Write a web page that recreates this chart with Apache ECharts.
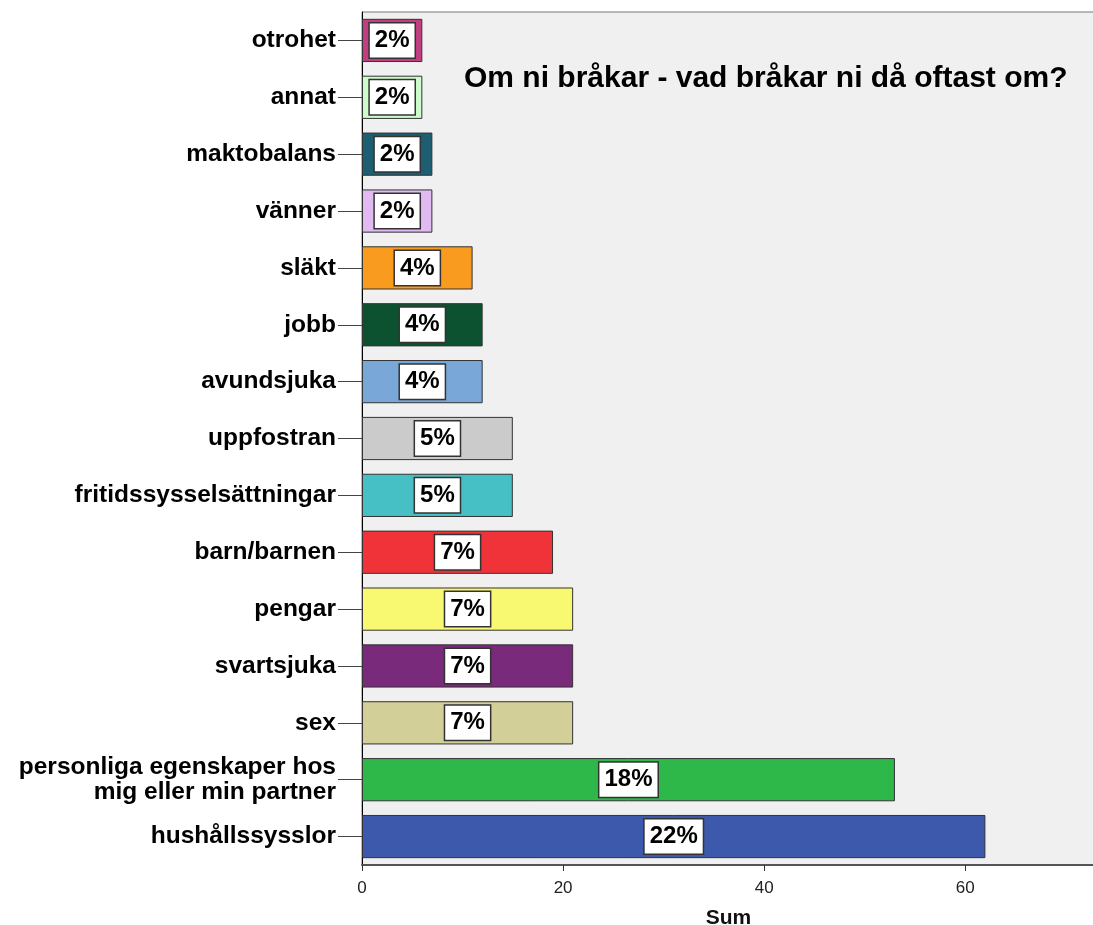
<!DOCTYPE html>
<html>
<head>
<meta charset="utf-8">
<script src="https://cdn.jsdelivr.net/npm/echarts@6/dist/echarts.min.js"></script>
<style>
  html, body { margin: 0; padding: 0; background: #fff; }
  #chart { width: 1093px; height: 925px; }
</style>
</head>
<body>
<div id="chart"></div>
<script>
// kategorier uppifrån och ned
const categories = [
  'otrohet', 'annat', 'maktobalans', 'vänner', 'släkt', 'jobb', 'avundsjuka',
  'uppfostran', 'fritidssysselsättningar', 'barn/barnen', 'pengar', 'svartsjuka',
  'sex', 'personliga egenskaper hos\nmig eller min partner', 'hushållssysslor'
]
const sums = [6, 6, 7, 7, 11, 12, 12, 15, 15, 19, 21, 21, 21, 53, 62]
const barColors = [
  '#c13e80', '#ccfccc', '#1d5e72', '#e0baf0', '#f99b1e', '#0d5230', '#79a8d8',
  '#cbcbcb', '#47c0c5', '#f03339', '#f9f871', '#7a2a7b', '#d3cf99', '#2fb84a', '#3d59ab'
]
const xTicks = [0, 20, 40, 60]

const total = sums.reduce((a, b) => a + b, 0)
const font = "'Liberation Sans', Arial, sans-serif"

let myChart = echarts.init(document.getElementById('chart'))
myChart.setOption({
  animation: false,
  title: {
    text: 'Om ni bråkar - vad bråkar ni då oftast om?',
    left: 459,
    top: 59,
    textStyle: { fontFamily: font, fontSize: 30, fontWeight: 'bold', color: '#000' },
  },
  grid: {
    left: 362,
    right: -2,
    top: 12,
    bottom: 60,
    outerBoundsMode: 'none',
    show: true,
    backgroundColor: '#f0f0f0',
    borderColor: '#777',
    borderWidth: 1,
  },
  xAxis: {
    type: 'value',
    min: 0,
    max: 72.9,
    interval: 20,
    name: 'Sum',
    nameLocation: 'middle',
    nameGap: 43,
    nameTextStyle: { fontFamily: font, fontSize: 21, fontWeight: 'bold', color: '#111' },
    axisLine: { show: true, lineStyle: { color: '#555', width: 2 } },
    axisTick: { show: true, length: 6, lineStyle: { color: '#333' }, customValues: xTicks },
    axisLabel: {
      fontFamily: font, fontSize: 17, color: '#222', margin: 15,
      customValues: xTicks,
    },
    splitLine: { show: false },
  },
  yAxis: {
    type: 'category',
    inverse: true,
    data: categories,
    axisLine: { show: true, lineStyle: { color: '#000', width: 1 } },
    axisTick: { show: true, length: 24, alignWithLabel: true, lineStyle: { color: '#444' } },
    axisLabel: {
      fontFamily: font, fontSize: 24.5, fontWeight: 'bold', color: '#000',
      margin: 26, lineHeight: 25, align: 'right',
    },
  },
  series: [
    {
      type: 'bar',
      barCategoryGap: '24%',
      data: sums.map((v, i) => ({ value: v, itemStyle: { color: barColors[i] } })),
      itemStyle: { borderColor: '#333', borderWidth: 1 },
      label: {
        show: true,
        position: 'inside',
        formatter: (p) => Math.round(p.value / total * 100) + '%',
        fontFamily: font,
        fontSize: 24,
        fontWeight: 'bold',
        color: '#000',
        lineHeight: 24,
        backgroundColor: '#fff',
        borderColor: '#333',
        borderWidth: 1.5,
        padding: [5, 5],
      },
    },
  ],
})
</script>
</body>
</html>
